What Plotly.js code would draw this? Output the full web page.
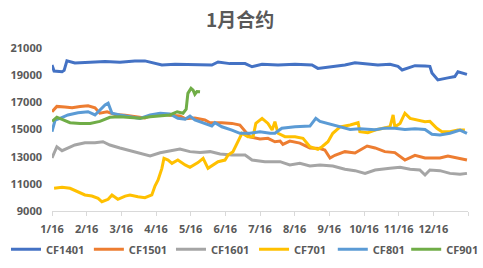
<!DOCTYPE html>
<html>
<head>
<meta charset="utf-8">
<script src="https://cdn.plot.ly/plotly-3.0.1.min.js"></script>
<style>html,body{margin:0;padding:0;background:#fff;}#chart{width:483px;height:268px;}</style>
</head>
<body>
<div id="chart"></div>
<script>
var tickLabels = ["1/16","2/16","3/16","4/16","5/16","6/16","7/16","8/16","9/16","10/16","11/16","12/16",""];
var tickPos = [0,1,2,3,4,5,6,7,8,9,10,11,12];
var yTickVals = [9000,11000,13000,15000,17000,19000,21000];
var yTickText = ["9000","11000","13000","15000","17000","19000","21000"];

var seriesNames = ["CF1401","CF1501","CF1601","CF701","CF801","CF901"];
var seriesColors = ["#4472C4","#ED7D31","#A5A5A5","#FFC000","#5B9BD5","#70AD47"];

var cf1401X = [0,0.06,0.29,0.35,0.43,0.66,1.1,1.53,1.96,2.39,2.68,2.97,3.17,3.55,3.98,4.41,4.61,4.79,5.13,5.57,5.77,6.06,6.52,7.01,7.5,7.67,8.02,8.45,8.74,9.03,9.4,9.75,9.98,10.1,10.33,10.47,10.76,10.9,10.96,11.13,11.42,11.62,11.71,11.83,11.97];
var cf1401Y = [19750,19300,19250,19350,20050,19900,19950,20000,19950,20050,20050,19900,19750,19800,19800,19800,19750,19970,19850,19850,19620,19800,19750,19800,19750,19500,19620,19750,19920,19850,19750,19800,19650,19380,19600,19700,19680,19650,19160,18650,18800,18900,19250,19150,19060];

var cf1501X = [0,0.14,0.37,0.58,0.81,1.04,1.24,1.38,1.59,1.82,2.11,2.39,2.68,2.83,3.12,3.4,3.69,3.84,4.12,4.41,4.56,4.9,5.19,5.42,5.57,5.71,6.0,6.23,6.43,6.58,6.66,6.86,7.15,7.44,7.73,7.87,8.02,8.16,8.45,8.74,9.09,9.32,9.6,9.89,10.18,10.47,10.76,11.19,11.42,11.71,11.97];
var cf1501Y = [16300,16700,16650,16600,16700,16750,16600,16200,16300,16100,16050,15950,15850,16000,16150,16050,16000,15800,15850,15700,15500,15500,15450,15330,14900,14450,14300,14350,14100,14150,13900,14150,14000,13640,13600,13490,12900,13100,13370,13270,13780,13640,13370,13300,12750,13100,12900,12900,13050,12920,12750];

var cf1601X = [0,0.14,0.29,0.66,0.95,1.24,1.47,1.67,1.96,2.25,2.54,2.83,3.12,3.4,3.69,3.98,4.27,4.56,4.85,5.19,5.57,5.77,6.14,6.58,6.86,7.15,7.44,7.73,8.1,8.45,8.74,9.03,9.32,9.75,10.04,10.33,10.61,10.76,10.9,11.19,11.48,11.77,11.97];
var cf1601Y = [12900,13730,13440,13860,14030,14030,14100,13860,13640,13440,13200,13050,13290,13440,13560,13370,13300,13370,13200,13120,13120,12750,12630,12630,12390,12510,12310,12390,12310,12070,11970,11770,12020,12140,12220,12070,12020,11650,12020,11970,11770,11700,11770];

var cf701X = [0.06,0.29,0.52,0.75,0.95,1.15,1.33,1.44,1.62,1.73,1.9,2.11,2.25,2.48,2.68,2.88,2.97,3.06,3.17,3.23,3.35,3.46,3.63,3.84,3.98,4.21,4.36,4.5,4.64,4.79,4.99,5.08,5.22,5.36,5.48,5.65,5.8,5.88,6.06,6.23,6.35,6.43,6.52,6.72,7.01,7.24,7.44,7.67,7.79,7.96,8.1,8.31,8.6,8.83,8.88,9.11,9.32,9.55,9.75,9.84,9.89,10.04,10.18,10.33,10.56,10.76,10.9,11.1,11.25,11.48,11.71,11.91];
var cf701Y = [10670,10740,10670,10430,10180,10100,9930,9680,9860,10180,9860,10100,10180,10050,9980,10180,10840,11280,12140,12880,12750,12510,12750,12390,12220,12560,12880,12140,12390,12630,12750,13120,13370,14100,14720,14470,14470,15450,15820,15450,14960,15570,14720,14470,14470,14350,13730,13540,13730,14100,14720,15200,15330,15500,14840,14770,14960,15090,15200,16070,15200,15450,16200,15820,15700,15570,15600,15090,14840,14840,14960,14960];

var cf801X = [0,0.09,0.23,0.46,0.75,1.04,1.24,1.38,1.53,1.62,1.73,1.96,2.25,2.54,2.83,3.12,3.4,3.63,3.84,3.98,4.12,4.41,4.61,4.7,4.9,5.19,5.42,5.71,6.0,6.29,6.43,6.63,7.01,7.44,7.61,7.73,8.02,8.31,8.6,8.88,9.32,9.6,9.89,10.18,10.47,10.76,10.96,11.19,11.48,11.77,11.97];
var cf801Y = [14840,15700,15820,16070,16230,16310,16070,16430,16800,16930,16200,16070,15940,15820,16070,16200,16150,15820,15750,15990,15700,15450,15260,15500,15200,14960,14720,14720,14840,14720,14720,15090,15200,15250,15820,15600,15400,15200,15000,15050,14990,15100,15100,15000,15050,15000,14650,14600,14720,14960,14720];

var cf901X = [0,0.14,0.29,0.52,0.81,1.1,1.38,1.67,1.96,2.25,2.54,2.83,3.12,3.4,3.61,3.78,3.87,3.92,4.01,4.07,4.12,4.18,4.27];
var cf901Y = [15600,15900,15750,15500,15450,15450,15600,15900,15940,15890,15820,15940,16010,16070,16310,16200,16500,17660,18030,17900,17600,17800,17780];

var xs = [cf1401X,cf1501X,cf1601X,cf701X,cf801X,cf901X];
var ys = [cf1401Y,cf1501Y,cf1601Y,cf701Y,cf801Y,cf901Y];
var legendIds = ['legend','legend2','legend3','legend4','legend5','legend6'];
var legendX = [0.0124, 0.184, 0.354, 0.526, 0.689, 0.841];

var traces = seriesNames.map(function(n,i){
  return {x: xs[i], y: ys[i], name: n, type: 'scatter', mode: 'lines', legend: legendIds[i],
          line: {color: seriesColors[i], width: 3}};
});

var tickFont = {family: 'Noto Sans, sans-serif', size: 11, color: '#595959', weight: 'bold'};

var layout = {
  width: 483, height: 268,
  margin: {l: 52, r: 15, t: 48, b: 57, pad: 0},
  paper_bgcolor: '#fff', plot_bgcolor: '#fff',
  font: {family: 'Noto Sans, sans-serif', size: 11, color: '#595959'},
  title: {text: '1月合约', x: 0.497, xanchor: 'center', y: 0.925, yanchor: 'middle',
          font: {family: 'Noto Sans CJK SC, sans-serif', size: 19, color: '#595959', weight: 'bold'}},
  xaxis: {range: [0, 12], tickvals: tickPos, ticktext: tickLabels, showgrid: false, zeroline: false,
          showline: true, linecolor: '#d9d9d9', linewidth: 1, ticks: 'outside', ticklen: 4, tickcolor: '#d9d9d9',
          ticklabelstandoff: 4, tickfont: tickFont, fixedrange: true},
  yaxis: {range: [9000, 21000], tickvals: yTickVals, ticktext: yTickText, showgrid: false,
          zeroline: false, showline: false, ticks: '', ticklabelstandoff: 9, tickfont: tickFont, fixedrange: true},
  showlegend: true
};
legendIds.forEach(function(id, i){
  layout[id] = {orientation: 'h', xref: 'container', yref: 'container', x: legendX[i], xanchor: 'left',
                y: 0.124, yanchor: 'top', itemwidth: 30,
                font: {family: 'Noto Sans, sans-serif', size: 11, color: '#595959', weight: 'bold'},
                bgcolor: 'rgba(0,0,0,0)'};
});

Plotly.newPlot('chart', traces, layout, {displayModeBar: false, staticPlot: true});
</script>
</body>
</html>
